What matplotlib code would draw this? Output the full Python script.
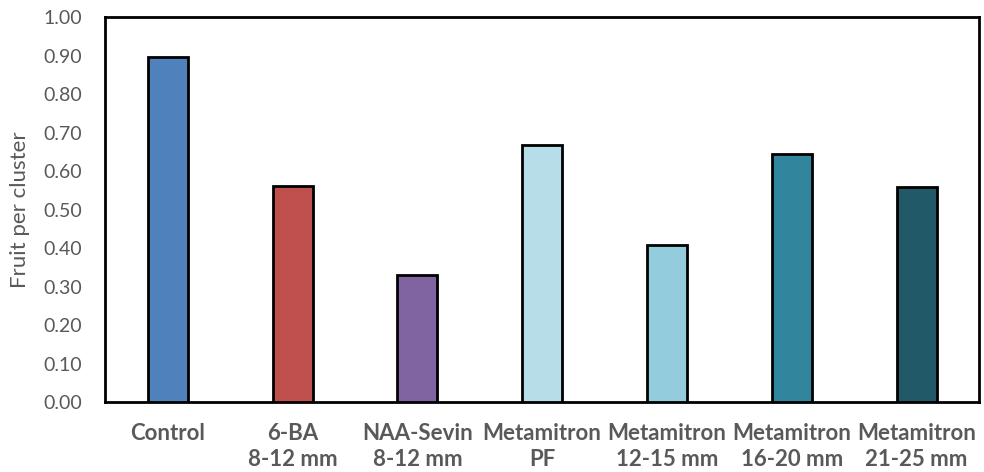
import numpy as np
import matplotlib.pyplot as plt
import matplotlib as mpl

mpl.rcParams['font.family'] = ['Lato', 'DejaVu Sans']

treatments = ['Control', '6-BA\n8-12 mm', 'NAA-Sevin\n8-12 mm', 'Metamitron\nPF',
              'Metamitron\n12-15 mm', 'Metamitron\n16-20 mm', 'Metamitron\n21-25 mm']
fruit_per_cluster = [0.895, 0.562, 0.331, 0.668, 0.407, 0.643, 0.558]
colors = ['#4F81BD', '#C0504D', '#8064A2', '#B7DEE8', '#93CDDD', '#31859C', '#215968']


def main():
    fig = plt.figure(figsize=(9.84, 4.72), dpi=100)
    ax = fig.add_axes([0.107, 0.148, 0.888, 0.816])

    x = np.arange(len(treatments))
    ax.bar(x, fruit_per_cluster, width=0.32, color=colors, edgecolor='k', linewidth=2, zorder=3)

    ax.set_xlim(-0.5, len(treatments) - 0.5)
    ax.set_ylim(0, 1.0)
    ax.set_yticks(np.arange(0, 1.01, 0.1))
    ax.set_yticklabels([f'{v:.2f}' for v in np.arange(0, 1.01, 0.1)], fontsize=14)
    ax.set_xticks(x)
    ax.set_xticklabels(treatments, fontweight='bold', fontsize=16, linespacing=1.3)

    ax.tick_params(axis='both', length=0, colors='#595959')
    ax.tick_params(axis='x', pad=15)
    ax.tick_params(axis='y', pad=17)
    for s in ['right', 'top', 'left', 'bottom']:
        ax.spines[s].set_linewidth(2)
        ax.spines[s].set_color('k')

    ax.set_ylabel('Fruit per cluster', color='#595959', fontsize=16, labelpad=9)

    plt.savefig('out.png', dpi=100)


if __name__ == "__main__":
    main()
